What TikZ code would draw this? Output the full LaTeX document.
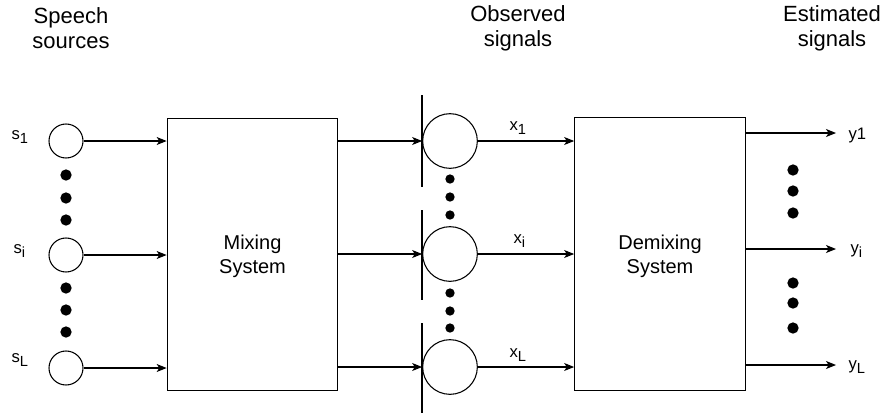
\documentclass[tikz,border=0pt]{standalone}
\usepackage{fontspec}
\setmainfont{Liberation Sans}
\usetikzlibrary{arrows.meta}

\newcommand{\lsub}[1]{\raisebox{-3.5pt}{\fontsize{11}{12}\selectfont #1}}

\tikzset{
  src/.style={draw, circle, minimum size=25.5pt, inner sep=0pt},
  obs/.style={draw, circle, minimum size=41pt, inner sep=0pt},
  sysbox/.style={draw, minimum width=128pt, minimum height=204.5pt, align=center,
    text depth=0pt, font=\fontsize{15}{18}\selectfont},
  bigdot/.style={fill, circle, minimum size=8.5pt, inner sep=0pt},
  smalldot/.style={fill, circle, minimum size=7pt, inner sep=0pt},
  lbl/.style={inner sep=0pt, font=\fontsize{12.5}{14}\selectfont},
  head/.style={align=center, inner sep=0pt, font=\fontsize{16.5}{18.75}\selectfont},
  sig/.style={-{Stealth[length=7.5pt,width=6pt,inset=2pt]}},
}

\begin{document}
\begin{tikzpicture}[x=0.75pt,y=-0.75pt,line width=0.8pt]
	\useasboundingbox (0,0) rectangle (885,415);
	% headers
	\node[head] (hsrc) at (71,28)  {Speech\\sources};
	\node[head] (hobs) at (518,28) {Observed\\signals};
	\node[head] (hest) at (832,28) {Estimated\\signals};
	% sources
	\node[src] (s1) at (66,141) {};
	\node[src] (si) at (66,255) {};
	\node[src] (sL) at (66,368) {};
	\node[lbl, anchor=base west] (ls1) at (11,139) {s\lsub{1}};
	\node[lbl, anchor=base west] (lsi) at (13,253) {s\lsub{i}};
	\node[lbl, anchor=base west] (lsL) at (11,362) {s\lsub{L}};
	\foreach \y in {175,198,220,288,310,332}
		\node[bigdot] at (66,\y) {};
	% mixing
	\node[sysbox] (mix) at (252.5,254.5) {Mixing\\System};
	\draw[sig] (s1) -- (mix.west |- s1);
	\draw[sig] (si) -- (mix.west |- si);
	\draw[sig] (sL) -- (mix.west |- sL);
	% observed signals
	\node[obs] (o1) at (450,141) {};
	\node[obs] (oi) at (450,254) {};
	\node[obs] (oL) at (450,367) {};
	\coordinate (v1a) at (422,95);  \coordinate (v1b) at (422,187);
	\coordinate (via) at (422,210); \coordinate (vib) at (422,300);
	\coordinate (vLa) at (422,323); \coordinate (vLb) at (422,413);
	\draw (v1a)--(v1b) (via)--(vib) (vLa)--(vLb);
	\foreach \y in {179,197,215,293,311,328}
		\node[smalldot] at (450,\y) {};
	\draw[sig] (mix.east |- o1) -- (o1.west);
	\draw[sig] (mix.east |- oi) -- (oi.west);
	\draw[sig] (mix.east |- oL) -- (oL.west);
	% demixing
	\node[sysbox] (demix) at (660,254) {Demixing\\System};
	\draw[sig] (o1) -- (demix.west |- o1);
	\draw[sig] (oi) -- (demix.west |- oi);
	\draw[sig] (oL) -- (demix.west |- oL);
	\node[lbl, anchor=base west] (lx1) at (509,130) {x\lsub{1}};
	\node[lbl, anchor=base west] (lxi) at (513,243) {x\lsub{i}};
	\node[lbl, anchor=base west] (lxL) at (509,357) {x\lsub{L}};
	% estimated signals
	\coordinate (e1) at (836,133);
	\coordinate (ei) at (836,249);
	\coordinate (eL) at (836,365);
	\draw[sig] (demix.east |- e1) -- (e1);
	\draw[sig] (demix.east |- ei) -- (ei);
	\draw[sig] (demix.east |- eL) -- (eL);
	\foreach \y in {170,191,213,283,303,328}
		\node[bigdot] at (793,\y) {};
	\node[lbl, anchor=base west] (ly1) at (848,139) {y1};
	\node[lbl, anchor=base west] (lyi) at (850,253) {y\lsub{i}};
	\node[lbl, anchor=base west] (lyL) at (848,369) {y\lsub{L}};
\end{tikzpicture}
\end{document}
